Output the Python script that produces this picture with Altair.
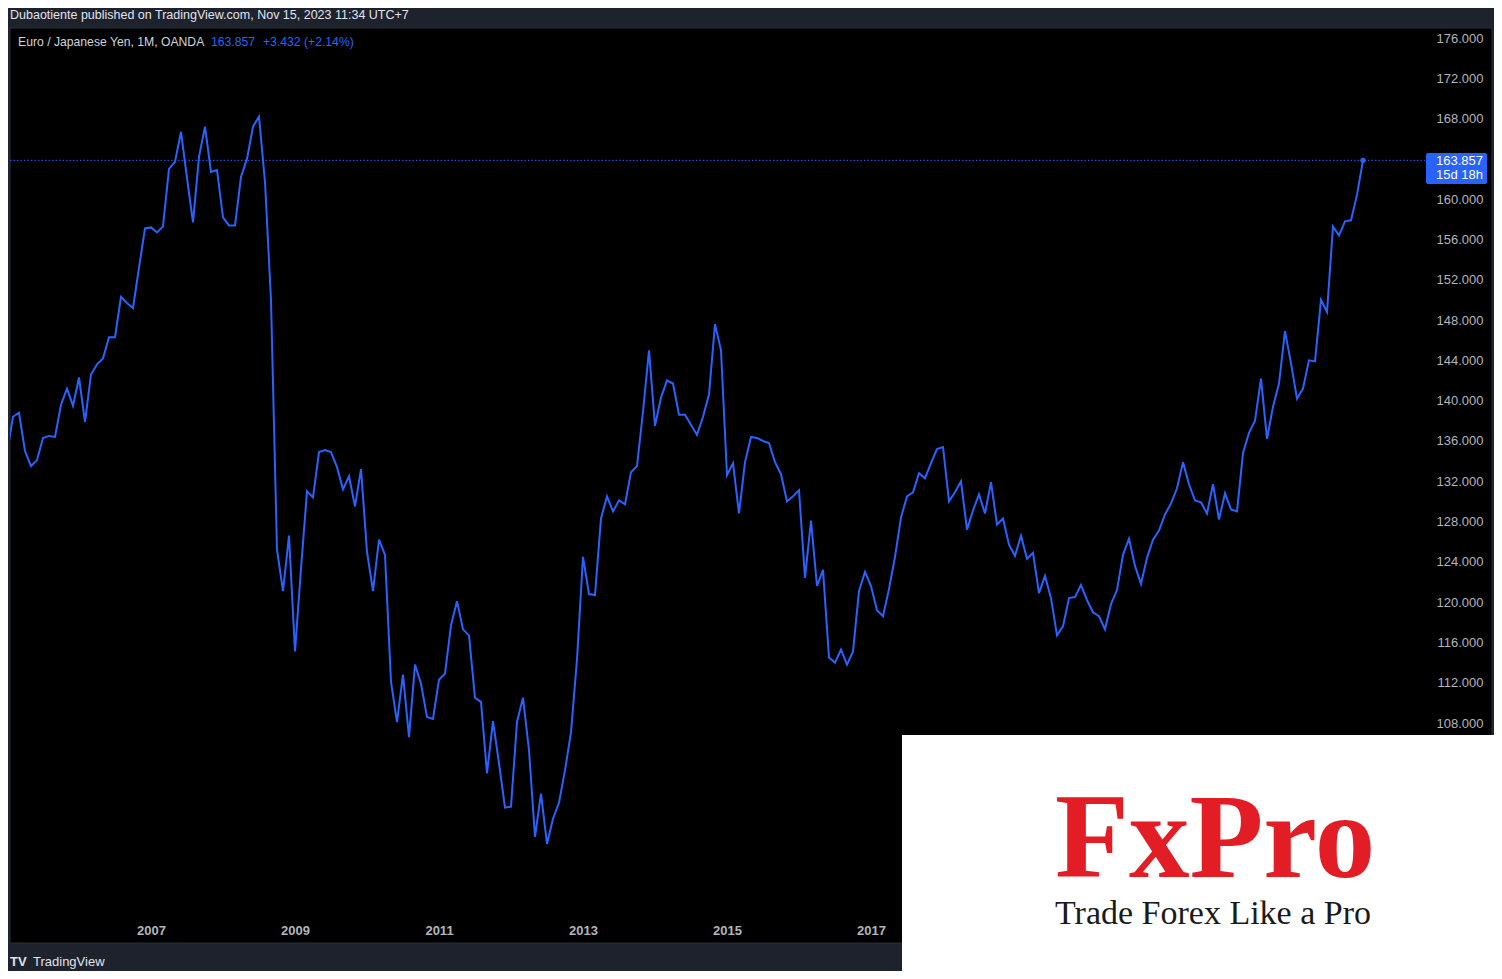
import altair as alt
import pandas as pd

# EUR/JPY monthly closes, Jan 2005 .. Nov 2023
Y2005 = [134.8, 138.4, 138.8, 135.0, 133.5, 134.1, 136.3, 136.5, 136.4, 139.6, 141.2, 139.5]
Y2006 = [142.3, 137.9, 142.6, 143.6, 144.2, 146.3, 146.3, 150.3, 149.7, 149.2, 153.2, 157.1]
Y2007 = [157.2, 156.7, 157.3, 163.0, 163.7, 166.7, 162.1, 157.7, 164.2, 167.2, 162.7, 162.9]
Y2008 = [158.2, 157.4, 157.4, 162.2, 164.0, 167.2, 168.2, 161.7, 150.0, 125.2, 121.1, 126.6]
Y2009 = [115.1, 123.3, 131.0, 130.4, 134.9, 135.1, 134.9, 133.4, 131.2, 132.5, 129.5, 133.2]
Y2010 = [125.0, 121.1, 126.2, 124.7, 112.1, 108.1, 112.8, 106.6, 113.8, 111.9, 108.6, 108.4]
Y2011 = [112.3, 112.9, 117.7, 120.1, 117.3, 116.7, 110.5, 110.1, 103.0, 108.2, 104.0, 99.6]
Y2012 = [99.7, 108.1, 110.5, 105.3, 96.7, 101.0, 96.0, 98.5, 100.1, 103.3, 107.1, 114.3]
Y2013 = [124.5, 120.8, 120.7, 128.3, 130.5, 129.0, 130.1, 129.7, 132.9, 133.5, 138.9, 145.0]
Y2014 = [137.5, 140.3, 142.0, 141.7, 138.6, 138.6, 137.6, 136.6, 138.4, 140.6, 147.6, 145.0]
Y2015 = [132.6, 133.8, 128.8, 133.9, 136.4, 136.3, 136.0, 135.8, 133.9, 132.7, 130.0, 130.5]
Y2016 = [131.1, 122.4, 128.1, 121.6, 123.2, 114.5, 114.0, 115.3, 113.8, 115.1, 121.1, 123.0]
Y2017 = [121.6, 119.2, 118.6, 121.3, 124.5, 128.4, 130.5, 130.9, 132.8, 132.3, 133.8, 135.2]
Y2018 = [135.4, 130.0, 130.9, 132.0, 127.2, 129.1, 130.7, 128.8, 131.9, 127.7, 128.3, 125.7]
Y2019 = [124.6, 126.6, 124.3, 124.9, 120.9, 122.6, 120.4, 116.7, 117.6, 120.4, 120.5, 121.7]
Y2020 = [120.2, 119.0, 118.6, 117.3, 119.8, 121.2, 124.7, 126.3, 123.6, 121.8, 124.4, 126.2]
Y2021 = [127.1, 128.7, 129.8, 131.3, 133.9, 131.7, 130.1, 129.9, 128.8, 131.7, 128.2, 130.8]
Y2022 = [129.2, 129.0, 134.8, 136.8, 138.0, 142.2, 136.2, 139.4, 141.7, 146.9, 143.7, 140.2]
Y2023 = [141.2, 144.0, 143.9, 150.0, 148.8, 157.3, 156.4, 157.8, 157.9, 160.425, 163.857]

values = (Y2005 + Y2006 + Y2007 + Y2008 + Y2009 + Y2010 + Y2011 + Y2012 + Y2013
          + Y2014 + Y2015 + Y2016 + Y2017 + Y2018 + Y2019 + Y2020 + Y2021 + Y2022 + Y2023)
START_YEAR = 2005
months = list(range(len(values)))
year_ticks = [2007, 2009, 2011, 2013, 2015, 2017]
# 164.000 is hidden behind the last-price badge in the reference
price_ticks = [108, 112, 116, 120, 124, 128, 132, 136, 140, 144, 148, 152, 156, 160, 168, 172, 176]

TITLE = "Dubaotiente published on TradingView.com, Nov 15, 2023 11:34 UTC+7"
LEGEND = "Euro / Japanese Yen, 1M, OANDA"
LAST = "163.857"
CHANGE = "+3.432 (+2.14%)"
COUNTDOWN = "15d 18h"

df = pd.DataFrame({"m": months, "price": values})
last_df = df.iloc[-1:].copy()

BLUE = "#2962ff"
FRAME = "#1e222d"
TXT = "#d1d4dc"
FONT = "Liberation Sans"
W, H = 1415, 887

xscale = alt.Scale(domain=[0.5, 0.5 + W / 6], nice=False, zero=False)
yscale = alt.Scale(domain=[88.944, 176.993], nice=False, zero=False)

one = pd.DataFrame({"a": [0]})

pane = alt.Chart(one).mark_rect(color="#000000", stroke="#2a2e39", strokeWidth=1).encode(
    x=alt.value(0), x2=alt.value(1482), y=alt.value(0), y2=alt.value(915))

line = alt.Chart(df).mark_line(color=BLUE, strokeWidth=2, clip=True).encode(
    x=alt.X("m:Q", scale=xscale,
            axis=alt.Axis(values=[(y - START_YEAR) * 12 for y in year_ticks],
                          labelExpr=f"'' + ({START_YEAR} + datum.value / 12)",
                          grid=False, domain=False, ticks=False, tickSize=0,
                          labelPadding=15, labelBaseline="middle", labelFont=FONT,
                          labelFontSize=13, labelFontWeight="bold", labelColor="#b2b5be",
                          title=None, zindex=1)),
    y=alt.Y("price:Q", scale=yscale,
            axis=alt.Axis(orient="right", values=price_ticks, format=".3f",
                          grid=False, domain=False, ticks=False, tickSize=0,
                          labelAlign="right", labelPadding=58, labelBaseline="middle",
                          labelFont=FONT, labelFontSize=13, labelColor="#b2b5be",
                          title=None, zindex=1)),
)

rule = alt.Chart(last_df).mark_rule(color=BLUE, strokeDash=[1.5, 2], strokeWidth=1).encode(
    y=alt.Y("price:Q", scale=yscale), x=alt.value(0), x2=alt.value(W))

dot = alt.Chart(last_df).mark_point(filled=True, color=BLUE, size=28, opacity=1).encode(
    x=alt.X("m:Q", scale=xscale), y=alt.Y("price:Q", scale=yscale))

box = alt.Chart(one).mark_rect(color=BLUE, cornerRadius=2).encode(
    x=alt.value(1416), x2=alt.value(1477), y=alt.value(125), y2=alt.value(156))


def txt(s, x, y, color=TXT, size=13, align="left", weight="normal", font=FONT):
    return alt.Chart(pd.DataFrame({"t": [s]})).mark_text(
        align=align, baseline="middle", color=color, fontSize=size, font=font,
        fontWeight=weight).encode(text="t:N", x=alt.value(x), y=alt.value(y))


box_t1 = txt(LAST, 1473, 133, color="white", align="right")
box_t2 = txt(COUNTDOWN, 1473, 147, color="white", align="right")

title = txt(TITLE, 0, -13, color="#e0e3eb", size=12.5)
legend1 = txt(LEGEND, 8, 14, size=12.2)
legend2 = txt(LAST, 201, 14, color=BLUE, size=12.2)
legend3 = txt(CHANGE, 253, 14, color=BLUE, size=12.2)

tv_logo = txt("TV", 0, 934, color="#e0e3eb", size=13, weight="bold")
tv_text = txt("TradingView", 23, 934, color="#e0e3eb", size=13)

logo_box = alt.Chart(one).mark_rect(color="#ffffff").encode(
    x=alt.value(892), x2=alt.value(1500), y=alt.value(707), y2=alt.value(960))

fx = alt.Chart(pd.DataFrame({"t": ["FxPro"]})).mark_text(
    align="left", baseline="alphabetic", color="#e31d25", fontSize=121,
    font="Liberation Serif", fontWeight="bold").encode(
    text="t:N", x=alt.value(1045), y=alt.value(849))
slogan = alt.Chart(pd.DataFrame({"t": ["Trade Forex Like a Pro"]})).mark_text(
    align="left", baseline="alphabetic", color="#1a1a1a", fontSize=34,
    font="Liberation Serif").encode(
    text="t:N", x=alt.value(1045), y=alt.value(896))

chart = alt.layer(
    pane, line, rule, dot, box, box_t1, box_t2, title, legend1, legend2, legend3,
    tv_logo, tv_text, logo_box, fx, slogan
).properties(
    width=W, height=H,
    autosize=alt.AutoSizeParams(type="none"),
    padding={"left": 2, "top": 20, "right": 69, "bottom": 56},
    background=FRAME,
).configure_view(strokeWidth=0)

chart.save("out.html", embed_options={"renderer": "svg", "actions": False})
